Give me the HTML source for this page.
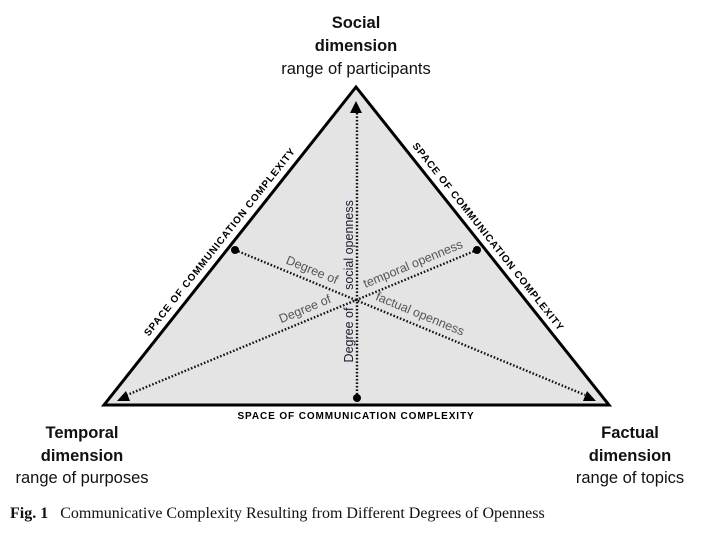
<!DOCTYPE html>
<html><head><meta charset="utf-8"><style>
html,body{margin:0;padding:0;background:#fff;}
svg{display:block;}
</style></head><body>
<svg width="702" height="536" viewBox="0 0 702 536" xmlns="http://www.w3.org/2000/svg" font-family="Liberation Sans, sans-serif">
<polygon points="356,87 104,405 609,405" fill="#e4e4e4" stroke="#000" stroke-width="3" stroke-linejoin="miter"/>
<g stroke="#111" stroke-width="2.4" stroke-dasharray="1.6,1.9" fill="none">
<line x1="357" y1="398" x2="357" y2="110"/>
<line x1="235" y1="250" x2="585" y2="395"/>
<line x1="477" y1="250" x2="127" y2="395"/>
</g>
<g fill="#000">
<circle cx="235" cy="250" r="4"/>
<circle cx="477" cy="250" r="4"/>
<circle cx="357" cy="398" r="4"/>
<polygon points="356,101 350,113 362,113"/>
<polygon points="117,401 126,391 130,401"/>
<polygon points="596,401 587,391 583,401"/>
</g>
<g font-size="10" font-weight="bold" fill="#000" text-anchor="middle" letter-spacing="0.9">
<text transform="translate(220,242) rotate(-51.6)" dy="3">SPACE OF COMMUNICATION COMPLEXITY</text>
<text transform="translate(488,237) rotate(51.6)" dy="3">SPACE OF COMMUNICATION COMPLEXITY</text>
<text x="356" y="419">SPACE OF COMMUNICATION COMPLEXITY</text>
</g>
<g font-size="12.5" fill="#555" text-anchor="middle">
<text transform="translate(312,270) rotate(22.5)" dy="4">Degree of</text>
<text transform="translate(420,314) rotate(22.5)" dy="4">factual openness</text>
<text transform="translate(305,309) rotate(-22.5)" dy="4">Degree of</text>
<text transform="translate(413,264) rotate(-22.5)" dy="4">temporal openness</text>
<text transform="translate(349,335) rotate(-90)" dy="4" fill="#1a1a33">Degree of</text>
<text transform="translate(349,245) rotate(-90)" dy="4" fill="#1a1a33">social openness</text>
</g>
<g font-size="16.5" fill="#111" text-anchor="middle">
<text x="356" y="28" font-weight="bold">Social</text>
<text x="356" y="51" font-weight="bold">dimension</text>
<text x="356" y="74">range of participants</text>
<text x="82" y="438" font-weight="bold">Temporal</text>
<text x="82" y="461" font-weight="bold">dimension</text>
<text x="82" y="483">range of purposes</text>
<text x="630" y="438" font-weight="bold">Factual</text>
<text x="630" y="461" font-weight="bold">dimension</text>
<text x="630" y="483">range of topics</text>
</g>
<text x="10" y="518" font-family="Liberation Serif, serif" font-size="16" fill="#111"><tspan font-weight="bold">Fig. 1</tspan><tspan dx="12">Communicative Complexity Resulting from Different Degrees of Openness</tspan></text>
</svg>
</body></html>
